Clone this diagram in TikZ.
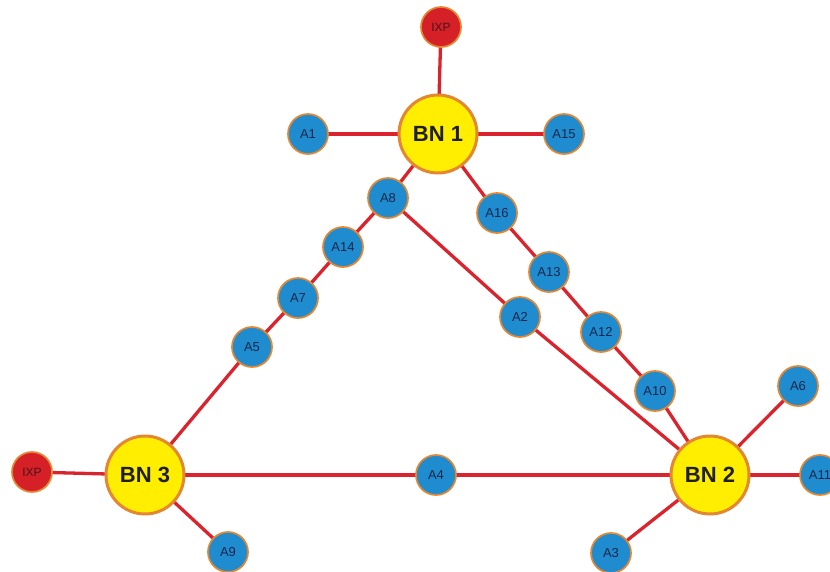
\documentclass[tikz,border=0pt]{standalone}
\usepackage{fontspec}
\setmainfont{Liberation Sans}
\usetikzlibrary{backgrounds}
\definecolor{linkred}{RGB}{218,35,45}
\definecolor{bnfill}{RGB}{255,238,0}
\definecolor{rim}{RGB}{228,135,50}
\definecolor{afill}{RGB}{32,140,208}
\definecolor{atext}{RGB}{20,38,75}
\definecolor{ixpfill}{RGB}{212,32,38}
\definecolor{ixptext}{RGB}{75,20,25}
\begin{document}
\begin{tikzpicture}[x=1pt,y=-1pt,
  link/.style={draw=linkred,line width=3.3pt},
  bn/.style={circle,draw=rim,line width=3pt,fill=bnfill,minimum size=78pt,inner sep=0pt,font=\fontsize{22}{22}\selectfont\bfseries,text=black!88},
  asn/.style={circle,draw=rim,line width=1.7pt,fill=afill,minimum size=40pt,inner sep=0pt,font=\fontsize{13}{13}\selectfont,text=atext},
  ixp/.style={circle,draw=rim,line width=1.7pt,fill=ixpfill,minimum size=40pt,inner sep=0pt,font=\fontsize{12}{12}\selectfont,text=ixptext}]
\useasboundingbox (0,0) rectangle (830,571);
\node[bn] (bn1) at (438,134) {BN 1};
\node[bn] (bn3) at (145,475) {BN 3};
\node[bn] (bn2) at (710,475) {BN 2};
\node[ixp] (ixp1) at (441,27) {IXP};
\node[ixp] (ixp3) at (32,472) {IXP};
\node[asn] (a1) at (308,134) {A1};
\node[asn] (a15) at (564,134) {A15};
\node[asn] (a8) at (388,198) {A8};
\node[asn] (a16) at (497,213) {A16};
\node[asn] (a14) at (343,247) {A14};
\node[asn] (a13) at (549,272) {A13};
\node[asn] (a7) at (298,298) {A7};
\node[asn] (a2) at (520,317) {A2};
\node[asn] (a12) at (601,332) {A12};
\node[asn] (a5) at (252,347) {A5};
\node[asn] (a10) at (655,391) {A10};
\node[asn] (a6) at (798,386) {A6};
\node[asn] (a4) at (436,475) {A4};
\node[asn] (a11) at (820,475) {A11};
\node[asn] (a9) at (228,552) {A9};
\node[asn] (a3) at (611,553) {A3};
\begin{scope}[on background layer]
\draw[link] (bn1.center) -- (ixp1.center);
\draw[link] (bn1.center) -- (a1.center);
\draw[link] (bn1.center) -- (a15.center);
\draw[link] (bn1.center) -- (a8.center) -- (a14.center) -- (a7.center) -- (a5.center) -- (bn3.center);
\draw[link] (a8.center) -- (a2.center) -- (bn2.center);
\draw[link] (bn1.center) -- (a16.center) -- (a13.center) -- (a12.center) -- (a10.center) -- (bn2.center);
\draw[link] (bn3.center) -- (ixp3.center);
\draw[link] (bn3.center) -- (a4.center) -- (bn2.center);
\draw[link] (bn3.center) -- (a9.center);
\draw[link] (bn2.center) -- (a6.center);
\draw[link] (bn2.center) -- (a11.center);
\draw[link] (bn2.center) -- (a3.center);
\end{scope}
\end{tikzpicture}
\end{document}
